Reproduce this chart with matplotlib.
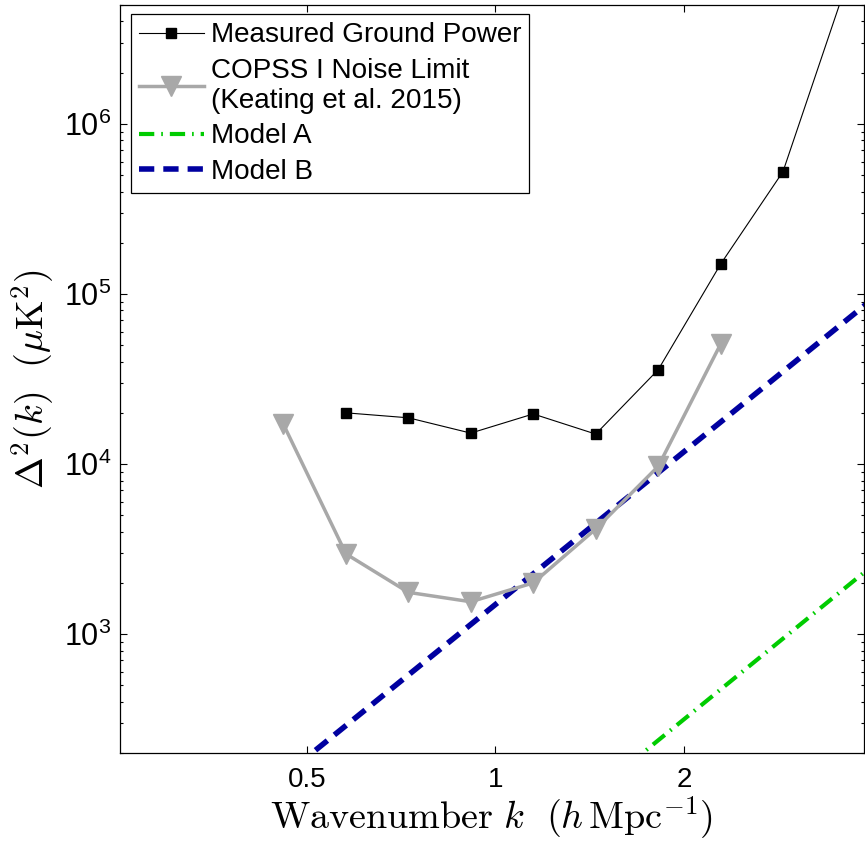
import math
import matplotlib
matplotlib.use("Agg")
import matplotlib.pyplot as plt
from matplotlib.ticker import LogLocator, FixedLocator, FuncFormatter, NullLocator, NullFormatter

# ---- data ----
k_meas = [0.577, 0.726, 0.913, 1.149, 1.446, 1.82, 2.29, 2.88, 3.63]
p_meas = [2.0e4, 1.87e4, 1.52e4, 1.97e4, 1.50e4, 3.59e4, 1.50e5, 5.24e5, 6.5e6]

k_noise = [0.458, 0.577, 0.726, 0.913, 1.149, 1.446, 1.82, 2.29]
p_noise = [1.72e4, 2.96e3, 1.76e3, 1.55e3, 2.0e3, 4.15e3, 9.7e3, 5.08e4]

k_model = [0.25, 4.0]
model_a = [0.616, 2522.0]
model_b = [24.0, 93120.0]

x_ticks = [0.5, 1, 2]
x_ticklabels = ["0.5", "1", "2"]
y_ticks = [1e3, 1e4, 1e5, 1e6]

labels = ["Measured Ground Power",
          "COPSS I Noise Limit\n(Keating et al. 2015)",
          "Model A", "Model B"]

# ---- style ----
plt.rcParams['font.family'] = ['Liberation Sans', 'DejaVu Sans']
plt.rcParams['mathtext.fontset'] = 'cm'
plt.rcParams['lines.scale_dashes'] = False

fig = plt.figure(figsize=(8.65, 8.41), dpi=100)
ax = fig.add_axes([120/865, 1 - 753/841, (864-120)/865, (753-5)/841])

ax.plot(k_meas, p_meas, '-', color='black', lw=0.8, marker='s', ms=7.7,
        mfc='black', mec='black', label=labels[0], zorder=4)
ax.plot(k_noise, p_noise, '-', color='#a8a8a8', lw=2.5, marker='v', ms=15,
        mfc='#a8a8a8', mec='#a8a8a8', label=labels[1], zorder=3)
ax.plot(k_model, model_a, color='#00cc00', lw=3.0, dashes=(11, 5, 1.2, 5),
        dash_capstyle='butt', label=labels[2], zorder=2)
ax.plot(k_model, model_b, color='#0000a0', lw=4.0, dashes=(11, 6.5),
        dash_capstyle='butt', label=labels[3], zorder=2)

ax.set_xscale('log')
ax.set_yscale('log')
ax.set_xlim(0.2512, 3.88)
ax.set_ylim(200, 5e6)

ax.xaxis.set_major_locator(FixedLocator(x_ticks))
ax.xaxis.set_major_formatter(FuncFormatter(lambda v, p: x_ticklabels[x_ticks.index(v)] if v in x_ticks else ""))
ax.xaxis.set_minor_locator(NullLocator())
ax.xaxis.set_minor_formatter(NullFormatter())

ax.yaxis.set_major_locator(FixedLocator(y_ticks))
ax.yaxis.set_major_formatter(FuncFormatter(lambda v, p: r'$\mathregular{10^{%d}}$' % round(math.log10(v))))
ax.yaxis.set_minor_locator(LogLocator(base=10, subs=range(2, 10), numticks=20))
ax.yaxis.set_minor_formatter(NullFormatter())

ax.tick_params(which='both', direction='in', top=True, right=True, width=0.8)
ax.tick_params(which='major', length=5)
ax.tick_params(which='minor', length=2.5)
ax.tick_params(axis='x', pad=10, labelsize=20)
ax.tick_params(axis='y', pad=6, labelsize=22)
for s in ax.spines.values():
    s.set_linewidth(0.9)

ax.set_xlabel(r'$\mathrm{Wavenumber}\ k\ \ (h\,\mathrm{Mpc}^{-1})$', fontsize=27.5, labelpad=1)
ax.set_ylabel(r'$\Delta^2(k)\ \ (\mu\mathrm{K}^2)$', fontsize=27.5, labelpad=6)

leg = ax.legend(loc='upper left', bbox_to_anchor=((131-120)/744, 1 - (14-5)/748),
                fontsize=20.1, frameon=True, fancybox=False, framealpha=1,
                edgecolor='black', borderpad=0.3, labelspacing=0.34,
                handlelength=2.3, handletextpad=0.25, borderaxespad=0)
leg.get_frame().set_linewidth(0.9)

fig.savefig('out.png', dpi=100)
